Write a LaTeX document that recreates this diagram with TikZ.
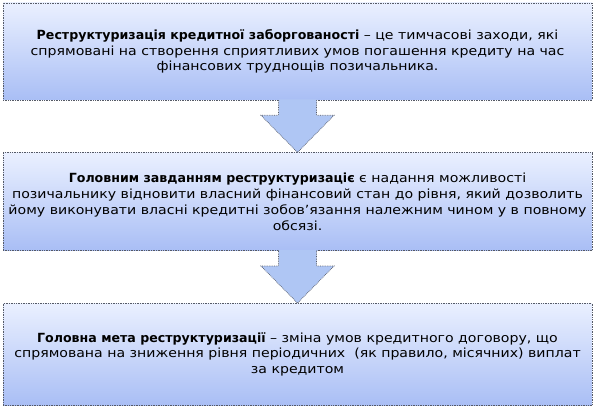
\documentclass[tikz,border=0pt]{standalone}
\usepackage{fontspec}
\setmainfont{DejaVu Sans}[FakeStretch=1.12, BoldFeatures={FakeStretch=1.0}]
\usetikzlibrary{positioning, calc}
\definecolor{boxtop}{HTML}{EAF0FF}
\definecolor{boxbottom}{HTML}{A9BEF5}
\definecolor{arrowfill}{HTML}{AFC6F4}
\definecolor{edgegray}{HTML}{555A66}

% fat down arrow from one box to the next
\newcommand{\fatarrow}[2]{%
  \fill[arrowfill] ($(#1.south)+(-19pt,1pt)$) -- ($(#1.south)+(-19pt,-15pt)$)
    -- ($(#1.south)+(-36.5pt,-15pt)$) -- (#2.north)
    -- ($(#1.south)+(36.5pt,-15pt)$) -- ($(#1.south)+(19pt,-15pt)$)
    -- ($(#1.south)+(19pt,1pt)$) -- cycle;
  \draw[edge] ($(#1.south)+(-19pt,0pt)$) -- ($(#1.south)+(-19pt,-15pt)$)
    -- ($(#1.south)+(-36.5pt,-15pt)$) -- (#2.north)
    -- ($(#1.south)+(36.5pt,-15pt)$) -- ($(#1.south)+(19pt,-15pt)$)
    -- ($(#1.south)+(19pt,0pt)$);
}

\begin{document}
\begin{tikzpicture}[
    node distance=52pt,
    edge/.style={draw=edgegray, densely dotted, line width=0.7pt},
    infobox/.style={rectangle, edge, top color=boxtop, bottom color=boxbottom,
                    minimum width=589pt, inner sep=0pt, align=center,
                    font=\fontsize{12.6}{15.8}\selectfont}
]
    \useasboundingbox (0,0) rectangle (597pt,-406pt);

    \node[infobox, minimum height=97pt] (restr) at (297.5pt,-51.5pt)
        {\textbf{Реструктуризація кредитної заборгованості} – це тимчасові заходи, які\\
         спрямовані на створення сприятливих умов погашення кредиту на час\\
         фінансових труднощів позичальника.};
    \node[infobox, minimum height=98pt, below=of restr] (task)
        {\textbf{Головним завданням реструктуризаціє} є надання можливості\\
         позичальнику відновити власний фінансовий стан до рівня, який дозволить\\
         йому виконувати власні кредитні зобов’язання належним чином у в повному\\
         обсязі.};
    \node[infobox, minimum height=102pt, below=of task] (goal)
        {\textbf{Головна мета реструктуризації} – зміна умов кредитного договору, що\\
         спрямована на зниження рівня періодичних\ \ (як правило, місячних) виплат\\
         за кредитом};

    \fatarrow{restr}{task}
    \fatarrow{task}{goal}
\end{tikzpicture}
\end{document}
